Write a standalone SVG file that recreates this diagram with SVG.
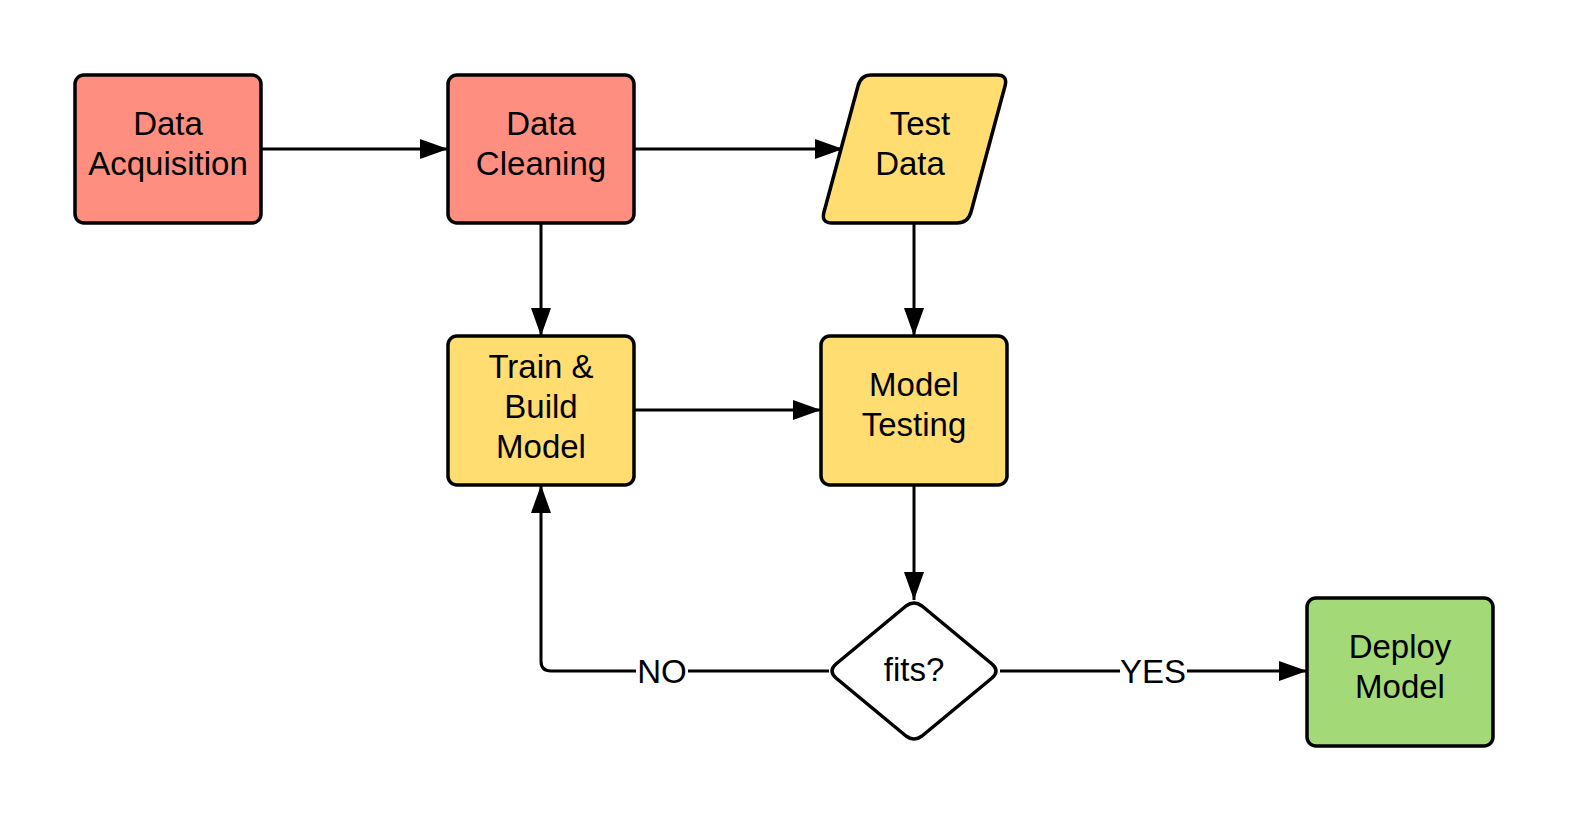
<svg xmlns="http://www.w3.org/2000/svg" width="1575" height="825" viewBox="0 0 1575 825">
<style>
.box{stroke:#000;stroke-width:3.5;stroke-linejoin:round}
.red{fill:#fe8f80}
.yel{fill:#ffdd71}
.grn{fill:#a3d977}
.wht{fill:#fff}
text{font-family:"Liberation Sans",Arial,sans-serif;font-size:33px;fill:#000;text-anchor:middle}
.lbl{font-size:33px}
.ln{fill:none;stroke:#000;stroke-width:3}
</style>
<defs>
<marker id="ah" viewBox="0 0 28 20" refX="28" refY="10" markerWidth="28" markerHeight="20" markerUnits="userSpaceOnUse" orient="auto">
<path d="M0,0 L28,10 L0,20 Z" fill="#000"/>
</marker>
</defs>
<g id="connectors">
<path class="ln" d="M261,149 H448" marker-end="url(#ah)"/>
<path class="ln" d="M634,149 H843" marker-end="url(#ah)"/>
<path class="ln" d="M541,223 V336" marker-end="url(#ah)"/>
<path class="ln" d="M914,223 V336" marker-end="url(#ah)"/>
<path class="ln" d="M634,410 H821" marker-end="url(#ah)"/>
<path class="ln" d="M914,485 V600" marker-end="url(#ah)"/>
<path class="ln" d="M829,671 H688 M636,671 H551 Q541,671 541,661 V485" marker-end="url(#ah)"/>
<path class="ln" d="M1000,671 H1120 M1187,671 H1307" marker-end="url(#ah)"/>
<text class="lbl" x="662" y="683">NO</text>
<text class="lbl" x="1153" y="683">YES</text>
</g>
<g id="data-acquisition">
<rect class="box red" x="75" y="75" width="186" height="148" rx="9"/>
<text x="168" y="135">Data</text>
<text x="168" y="175">Acquisition</text>
</g>
<g id="data-cleaning">
<rect class="box red" x="448" y="75" width="186" height="148" rx="9"/>
<text x="541" y="135">Data</text>
<text x="541" y="175">Cleaning</text>
</g>
<g id="test-data">
<path class="box yel" d="M871,75 H997 Q1008,75 1005,86 L971,212 Q968,223 957,223 H832 Q821,223 824,212 L858,86 Q861,75 871,75 Z"/>
<text x="920" y="135">Test</text>
<text x="910" y="175">Data</text>
</g>
<g id="train-build-model">
<rect class="box yel" x="448" y="336" width="186" height="149" rx="9"/>
<text x="541" y="378">Train &amp;</text>
<text x="541" y="418">Build</text>
<text x="541" y="458">Model</text>
</g>
<g id="model-testing">
<rect class="box yel" x="821" y="336" width="186" height="149" rx="9"/>
<text x="914" y="396">Model</text>
<text x="914" y="436">Testing</text>
</g>
<g id="fits">
<path class="box wht" d="M906,606 Q914,600 922,606 L992,664 Q1000,671 992,678 L922,736 Q914,742 906,736 L836,678 Q828,671 836,664 Z"/>
<text x="914" y="681">fits?</text>
</g>
<g id="deploy-model">
<rect class="box grn" x="1307" y="598" width="186" height="148" rx="9"/>
<text x="1400" y="658">Deploy</text>
<text x="1400" y="698">Model</text>
</g>
</svg>
